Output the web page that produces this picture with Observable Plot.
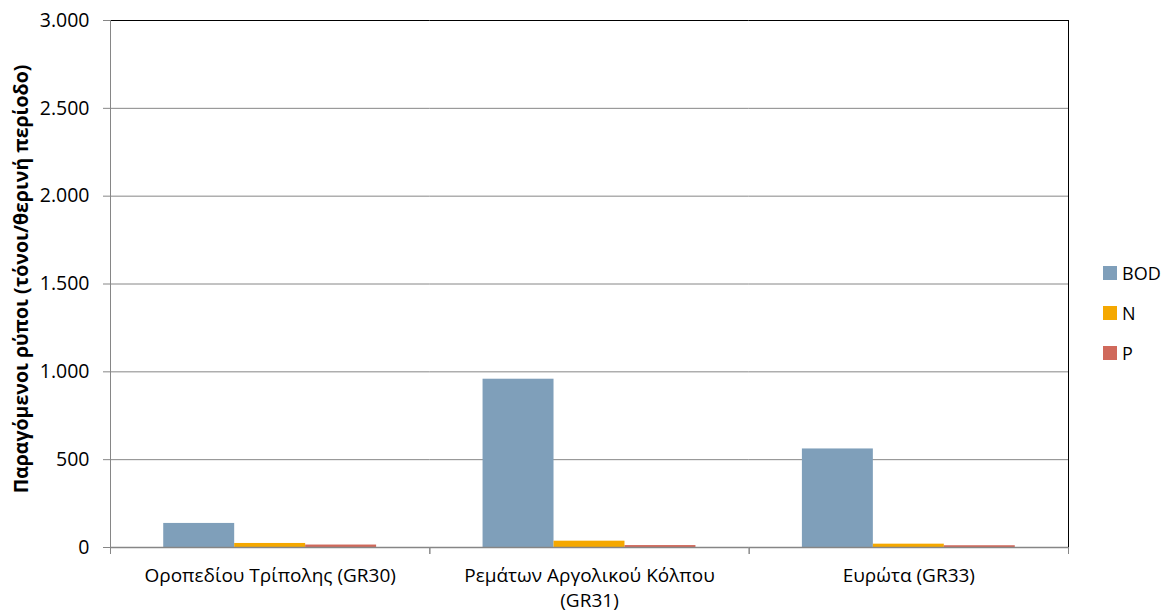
<!DOCTYPE html>
<html>
<head>
<meta charset="utf-8">
<script src="https://cdn.jsdelivr.net/npm/d3@7"></script>
<script src="https://cdn.jsdelivr.net/npm/@observablehq/plot@0.6"></script>
<style>
  html, body { margin: 0; padding: 0; background: #fff; }
  #wrap { position: relative; width: 1163px; height: 613px; font-family: "Open Sans", sans-serif; }
  #wrap svg g[aria-label="y-axis tick label"] { font-size: 19.5px; }
  #wrap svg g[aria-label="fx-axis tick label"] { font-size: 19px; }
  #legend { position: absolute; left: 1103px; top: 262px; font-size: 18px; color: #000; }
  .item { display: flex; align-items: center; height: 21px; margin-bottom: 19px; }
  .sw { width: 14px; height: 14px; margin-right: 5px; }
</style>
</head>
<body>
<div id="wrap"></div>
<script>
const categories = ["Οροπεδίου Τρίπολης (GR30)", "Ρεμάτων Αργολικού Κόλπου (GR31)", "Ευρώτα (GR33)"];
const tickLabels = ["Οροπεδίου Τρίπολης (GR30)", "Ρεμάτων Αργολικού Κόλπου\n(GR31)", "Ευρώτα (GR33)"];
const series = ["BOD", "N", "P"];
const BOD = [137, 958, 561];
const N = [23, 36, 19];
const P = [14, 11, 10];
const yTicks = [0, 500, 1000, 1500, 2000, 2500, 3000];
const colors = ["#7f9fba", "#f5a800", "#d0695b"];
const yTitle = "Παραγόμενοι ρύποι (τόνοι/θερινή περίοδο)";

const values = [BOD, N, P];
const data = categories.flatMap((c, i) => series.map((s, j) => ({cat: c, series: s, value: values[j][i]})));
const loc = d3.formatLocale({decimal: ",", thousands: ".", grouping: [3], currency: ["", ""]});
const fmt = loc.format(",");

const width = 1163, height = 613, ml = 110, mr = 95, mt = 20, mb = 66;
const bw = (width - ml - mr) / categories.length;

const chart = Plot.plot({
  width, height,
  marginLeft: ml, marginRight: mr, marginTop: mt, marginBottom: mb,
  style: {fontFamily: "Open Sans, sans-serif", fontSize: "18px", color: "#000", background: "#fff"},
  fx: {domain: categories, padding: 0, round: false, label: null},
  x: {domain: series, paddingInner: 0, paddingOuter: 0.75, round: false, axis: null},
  y: {domain: [0, 3000], label: null},
  color: {domain: series, range: colors},
  marks: [
    Plot.ruleY(yTicks.slice(1, -1), {stroke: "#868686", strokeWidth: 1}),
    Plot.barY(data, {fx: "cat", x: "series", y: "value", fill: "series"}),
    Plot.ruleY([3000], {stroke: "#000", strokeWidth: 1}),
    Plot.ruleY([0], {stroke: "#868686", strokeWidth: 1.3}),
    Plot.frame({facet: "super", anchor: "right", stroke: "#000"}),
    Plot.frame({facet: "super", anchor: "left", stroke: "#868686"}),
    Plot.axisY({ticks: yTicks, tickFormat: fmt, tickSize: 7, tickPadding: 14, stroke: "#868686", fontSize: 19.5,
      label: null}),
    Plot.axisFx({anchor: "bottom", tickSize: 0, tickPadding: 17, lineHeight: 1.32, fontSize: 19, label: null,
      tickFormat: d => tickLabels[categories.indexOf(d)]}),
    Plot.axisFx({anchor: "bottom", tickSize: 7, text: null, dx: -bw / 2, stroke: "#868686", label: null}),
    Plot.axisFx({anchor: "bottom", tickSize: 7, text: null, dx: bw / 2, stroke: "#868686", label: null}),
    Plot.text([yTitle], {facet: "super", frameAnchor: "left", textAnchor: "middle", lineAnchor: "middle",
      dx: -89, dy: -5, rotate: -90, fontWeight: "bold", fontSize: 19.5, text: d => d})
  ]
});

const wrap = document.getElementById("wrap");
wrap.appendChild(chart);
const legend = document.createElement("div");
legend.id = "legend";
series.forEach((s, i) => {
  const it = document.createElement("div");
  it.className = "item";
  it.innerHTML = `<div class="sw" style="background:${colors[i]}"></div><span>${s}</span>`;
  legend.appendChild(it);
});
wrap.appendChild(legend);
</script>
</body>
</html>
